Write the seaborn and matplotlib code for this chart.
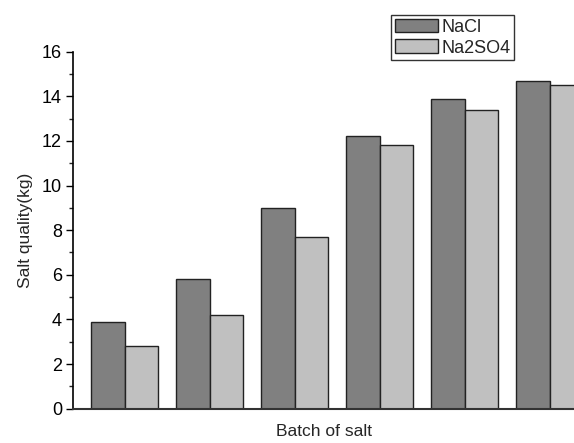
import pandas as pd
import matplotlib
matplotlib.use("Agg")
import matplotlib.pyplot as plt
import seaborn as sns

# Salt quality per batch
batches = ["1", "2", "3", "4", "5", "6"]
nacl = [3.9, 5.8, 9.0, 12.2, 13.9, 14.7]
na2so4 = [2.8, 4.2, 7.7, 11.8, 13.4, 14.5]
salts = ["NaCl", "Na2SO4"]
colors = ["#808080", "#c0c0c0"]

df = pd.DataFrame({
    "batch": batches * 2,
    "quality": nacl + na2so4,
    "salt": [salts[0]] * len(batches) + [salts[1]] * len(batches),
})

sns.set_style("white")
plt.rcParams["font.family"] = ["Liberation Sans", "DejaVu Sans"]

fig = plt.figure(figsize=(5.74, 4.43), dpi=100)
ax = fig.add_axes([73 / 574, 0.0774, 1 - 73 / 574, 0.806])

sns.barplot(data=df, x="batch", y="quality", hue="salt", palette=colors,
            width=0.79, edgecolor="#222222", linewidth=1.0, ax=ax)

ax.set_xlim(-0.606, 5.288)
ax.set_ylim(0, 16)
ax.set_yticks(range(0, 17, 2))
ax.set_yticks(range(1, 16, 2), minor=True)
ax.tick_params(axis="y", which="major", direction="out", length=5, width=1,
               labelsize=13, left=True, colors="black", pad=3)
ax.tick_params(axis="y", which="minor", direction="out", length=3, width=1, left=True)
ax.tick_params(axis="x", bottom=False, labelbottom=False)

for s in ["top", "right"]:
    ax.spines[s].set_visible(False)
ax.spines["left"].set_color("black")
ax.spines["left"].set_linewidth(1.2)
ax.spines["bottom"].set_color("#333333")
ax.spines["bottom"].set_linewidth(1.5)

ax.set_xlabel("Batch of salt", fontsize=12.5, labelpad=11)
ax.set_ylabel("Salt quality(kg)", fontsize=12.5, labelpad=6)

leg = ax.legend(loc="upper left", bbox_to_anchor=(391 / 574, 1 - 15 / 443),
                bbox_transform=fig.transFigure, frameon=True, fancybox=False,
                edgecolor="black", fontsize=13, handlelength=2.4,
                handleheight=0.8, handletextpad=0.2, borderpad=0.2,
                labelspacing=0.2, borderaxespad=0)
leg.get_frame().set_linewidth(1.0)

fig.savefig("out.png", dpi=100)
